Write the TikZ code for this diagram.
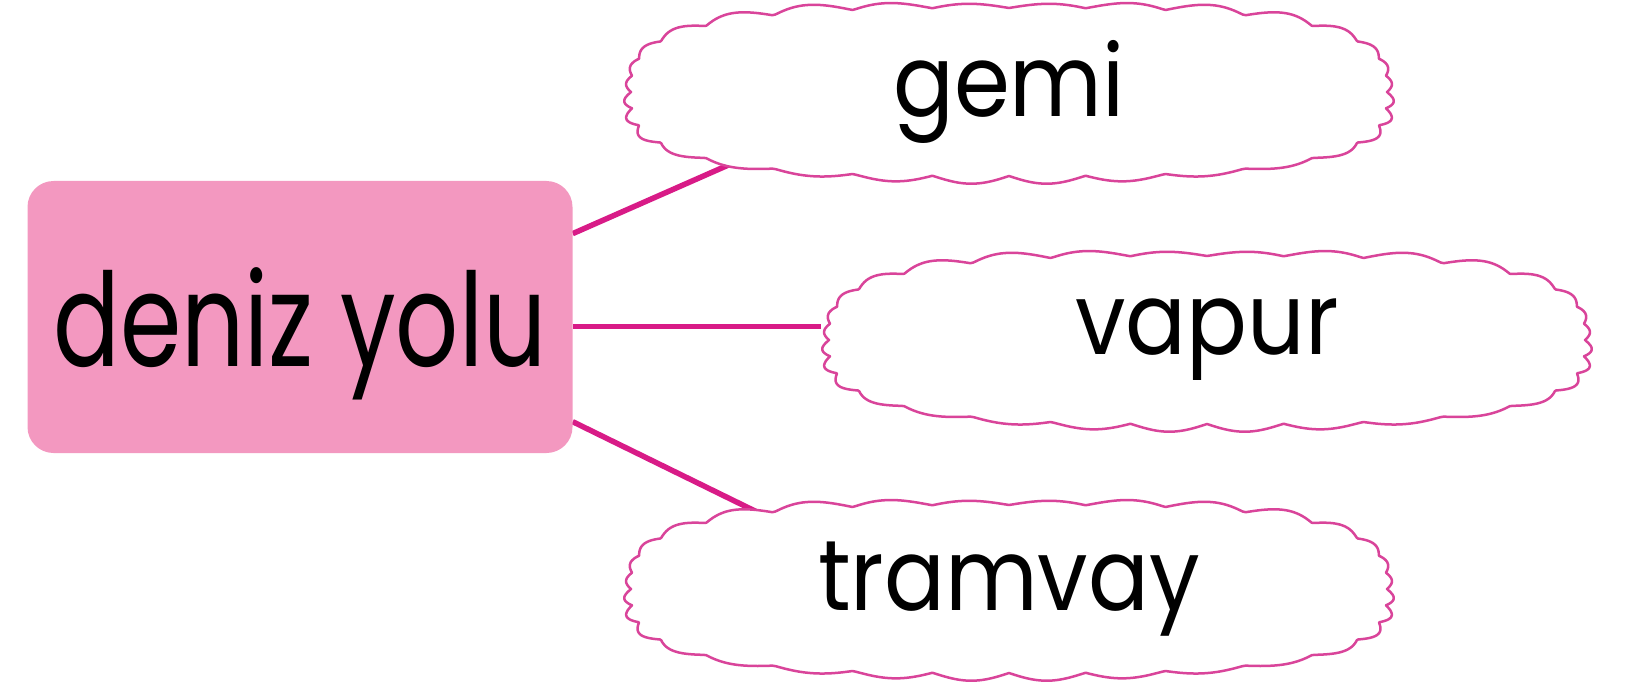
\documentclass[tikz,border=0pt]{standalone}
\usepackage{fontspec}
\setmainfont[FakeStretch=0.76]{Poppins}
\newfontfamily\wordfont[FakeStretch=0.9]{Poppins}
\usepackage{xcolor}
\usetikzlibrary{positioning,calc}

\definecolor{boxpink}{HTML}{F398C0}
\definecolor{linkpink}{HTML}{D81B87}
\definecolor{cloudpink}{HTML}{D9449A}

\pgfdeclarelayer{links}
\pgfdeclarelayer{rims}
\pgfsetlayers{links,rims,main}

\begin{document}
\begin{tikzpicture}[
  x=1pt, y=-1pt,
  topic/.style={fill=boxpink, rounded corners=26pt, minimum width=545pt,
    minimum height=272pt, inner sep=0pt, text depth=0pt,
    font=\fontsize{130}{130}\selectfont},
  word/.style={minimum width=772pt, minimum height=176pt, inner sep=0pt,
    font=\wordfont\fontsize{100}{100}\selectfont},
  rim/.style={draw=cloudpink, line width=2.5pt, fill=white, line join=round},
  link/.style={draw=linkpink, line width=5.5pt}
]
  \useasboundingbox (0,0) rectangle (1639,682);

  % central topic
  \node[topic] (deniz) at (300,317) {deniz yolu};

  % word clouds
  \node[word] (gemi)    at (1009,92)  {gemi};
  \node[word] (vapur)   at (1207,340) {vapur};
  \node[word] (tramvay) at (1009,589) {tramvay};

  % links
  \begin{pgfonlayer}{links}
    \draw[link] (deniz.17) -- ($(gemi.south west)+(112,-18)$);
    \draw[link] (deniz.-2) -- (deniz.-2 -| vapur.west);
    \draw[link] (deniz.-21) -- ($(tramvay.north west)+(144,16)$);
  \end{pgfonlayer}

  % wavy cloud rims
  \begin{pgfonlayer}{rims}
    \foreach \w in {gemi,vapur,tramvay}
      \draw[rim, shift={(\w.center)}] plot[domain=0:360, samples=721]
        ({(378+(6+2*sin(5*\x))*abs(sin(16*\x+10*sin(2*\x))))*cos(\x)/pow(pow(abs(cos(\x)),3)+pow(abs(sin(\x)),3),1/3)},
         {(84+(6+2*sin(5*\x))*abs(sin(16*\x+10*sin(2*\x))))*sin(\x)/pow(pow(abs(cos(\x)),3)+pow(abs(sin(\x)),3),1/3)}) -- cycle;
  \end{pgfonlayer}
\end{tikzpicture}
\end{document}
